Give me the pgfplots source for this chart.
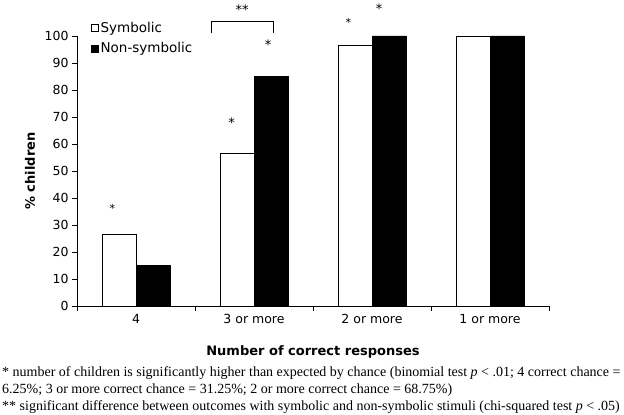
\documentclass[border=0pt]{standalone}
\usepackage{fontspec}
\setmainfont{DejaVu Sans}
\newfontfamily\timesfont{Liberation Serif}
\usepackage{pgfplots}
\pgfplotsset{compat=1.18}

\begin{document}
\begin{tikzpicture}
\path[use as bounding box] (0,0) rectangle (624bp,415bp);
\begin{axis}[
    at={(77bp,109bp)}, anchor=south west,
    scale only axis,
    width=472bp, height=270bp,
    ybar=0pt, bar width=34bp,
    xmin=-0.5, xmax=3.5,
    ymin=0, ymax=100,
    xtick={0,1,2,3},
    xticklabels={4, 3 or more, 2 or more, 1 or more},
    minor xtick={-0.5,0.5,1.5,2.5,3.5},
    ytick={0,10,...,100},
    axis x line=bottom, axis y line=left,
    axis line style={-, line width=1pt},
    tick align=outside,
    major x tick style={draw=none},
    major tick length=5bp, minor tick length=5bp,
    tick style={black, line width=0.8pt},
    every tick label/.append style={font=\fontsize{12.5bp}{15bp}\selectfont},
    /pgf/number format/assume math mode=true,
    xlabel={\bfseries Number of correct responses},
    ylabel={\bfseries\% children},
    label style={font=\fontsize{13bp}{15bp}\selectfont},
    xlabel style={at={(axis description cs:0.5,0)}, anchor=center, yshift=-46bp},
    ylabel style={at={(axis description cs:0,0.5)}, anchor=center, yshift=47bp},
    clip=false,
    legend style={at={(rel axis cs:0.023,1.068)}, anchor=north west, draw=none, fill=none,
        font=\fontsize{13.5bp}{15bp}\selectfont, row sep=5bp,
        legend cell align=left},
    legend image code/.code={\draw[#1, line width=0.6pt] (0bp,-3.5bp) rectangle (7bp,3.5bp);},
]
\addplot[draw=black, fill=white, line width=0.6pt] coordinates {(0,26.7) (1,56.7) (2,96.7) (3,100)};
\addplot[draw=black, fill=black] coordinates {(0,15) (1,85) (2,100) (3,100)};
\legend{Symbolic, Non-symbolic}
% significance markers
\node[font=\fontsize{11bp}{12bp}\selectfont] at (axis cs:-0.2,36) {*};
\node[font=\fontsize{13bp}{14bp}\selectfont] at (axis cs:0.81,68) {*};
\node[font=\fontsize{13bp}{14bp}\selectfont] at (axis cs:1.12,96.7) {*};
\node[font=\fontsize{11bp}{12bp}\selectfont] at (axis cs:1.80,105) {*};
\node[font=\fontsize{13bp}{14bp}\selectfont] at (axis cs:2.06,110) {*};
\draw[line width=0.6pt] (axis cs:0.636,101.1) -- (axis cs:0.636,105.6) -- (axis cs:1.161,105.6) -- (axis cs:1.161,101.1);
\node[font=\fontsize{13bp}{14bp}\selectfont] at (axis cs:0.9,109.8) {**};
\end{axis}
\begin{scope}[every node/.style={anchor=base west, inner sep=0pt, font=\timesfont\fontsize{14bp}{16bp}\selectfont}]
\node at (2bp,39bp) {* number of children is significantly higher than expected by chance (binomial test \textit{p} < .01; 4 correct chance =};
\node at (2bp,22bp) {6.25\%; 3 or more correct chance = 31.25\%; 2 or more correct chance = 68.75\%)};
\node at (2bp,5bp) {** significant difference between outcomes with symbolic and non-symbolic stimuli (chi-squared test \textit{p} < .05)};
\end{scope}
\end{tikzpicture}
\end{document}
